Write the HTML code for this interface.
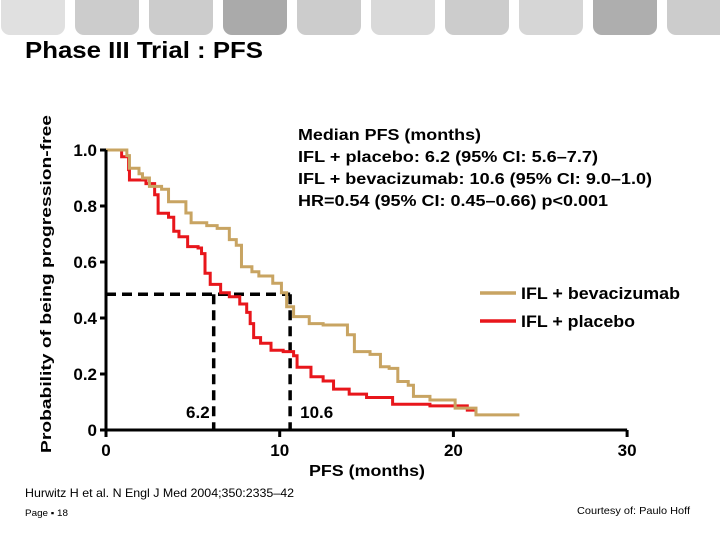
<!DOCTYPE html>
<html><head><meta charset="utf-8"><style>
body{margin:0;width:720px;height:540px;background:#fff;position:relative;overflow:hidden;font-family:"Liberation Sans",Arial,sans-serif}
.tab{position:absolute;top:-8px;width:64px;height:43px;border-radius:0 0 9px 9px}
.t{position:absolute;font-weight:bold;color:#000;white-space:nowrap}
</style></head><body>
<div id="tabs"></div>
<svg width="720" height="540" style="position:absolute;left:0;top:0" id="chart"></svg>
<script>
const tabColors=['#e0e0e0','#cccccc','#cccccc','#aaaaaa','#cccccc','#d9d9d9','#cccccc','#d6d6d6','#aeaeae','#cccccc'];
const tabs=document.getElementById('tabs');
tabColors.forEach((c,i)=>{const d=document.createElement('div');d.className='tab';d.style.left=(1+i*74)+'px';d.style.background=c;


tabs.appendChild(d);});

const xTicks=[0,10,20,30];
const yTicks=[0,0.2,0.4,0.6,0.8,1.0];
const yTickLabels=['0','0.2','0.4','0.6','0.8','1.0'];
const bevaMonths=[0,1.2,1.35,1.9,2.1,2.5,3.2,3.6,4.6,4.9,5.8,6.4,7.1,7.5,7.8,8.4,8.8,9.6,10.1,10.4,10.8,11.7,12.5,13.9,14.3,15.2,15.8,16.3,16.8,17.4,17.7,18.65,20.1,21.3,23.8];
const bevaSurv=[1.0,0.98,0.935,0.915,0.9,0.87,0.86,0.815,0.775,0.74,0.73,0.72,0.68,0.66,0.583,0.565,0.55,0.524,0.49,0.44,0.405,0.38,0.375,0.34,0.28,0.27,0.226,0.22,0.173,0.16,0.12,0.107,0.078,0.054,0.054];
const placMonths=[0,0.9,1.3,1.35,2.3,2.8,3.0,3.6,3.9,4.2,4.7,5.3,5.5,5.7,6.0,6.6,7.1,7.7,8.1,8.3,8.5,8.9,9.5,10.2,10.8,11.0,11.8,12.5,13.1,14.0,15.0,16.5,18.65,20.8,21.3];
const placSurv=[1.0,0.976,0.93,0.893,0.88,0.84,0.774,0.76,0.71,0.69,0.655,0.65,0.63,0.56,0.52,0.49,0.476,0.45,0.42,0.38,0.33,0.31,0.285,0.28,0.265,0.224,0.19,0.175,0.146,0.128,0.116,0.092,0.086,0.071,0.054];
const medians=[6.2,10.6];
const medianLabels=['6.2','10.6'];
const medianLevel=0.485;

const X=m=>106+m*17.37, Y=s=>430-s*280;
const svg=document.getElementById('chart');const NS='http://www.w3.org/2000/svg';
function el(tag,attrs,parent){const e=document.createElementNS(NS,tag);for(const k in attrs)e.setAttribute(k,attrs[k]);(parent||svg).appendChild(e);return e;}
function txt(x,y,s,attrs){const t=el('text',Object.assign({x:x,y:y,'font-family':'Liberation Sans, Arial, sans-serif','font-weight':'bold','font-size':15,fill:'#000'},attrs));t.textContent=s;return t;}

// slide texts
let t0=txt(25,58,'Phase III Trial : PFS',{'font-size':23,textLength:238,lengthAdjust:'spacingAndGlyphs'});


t0=txt(25,497,'Hurwitz H et al. N Engl J Med 2004;350:2335–42',{'font-size':12,'font-weight':'normal',textLength:269,lengthAdjust:'spacingAndGlyphs'});


t0=txt(25,516,'Page ▪ 18',{'font-size':9,'font-weight':'normal',textLength:43,lengthAdjust:'spacingAndGlyphs'});


t0=txt(577,514,'Courtesy of: Paulo Hoff',{'font-size':10.5,'font-weight':'normal',textLength:113,lengthAdjust:'spacingAndGlyphs'});



// dashed medians
const h=el('line',{x1:X(0),y1:Y(medianLevel),x2:X(medians[1]),y2:Y(medianLevel),stroke:'#000','stroke-width':3.5,'stroke-dasharray':'10,6'});


medians.forEach((m,i)=>{const v=el('line',{x1:X(m),y1:Y(medianLevel),x2:X(m),y2:Y(0),stroke:'#000','stroke-width':3.5,'stroke-dasharray':'10,6'});


const t=txt(i==0?X(m)-4:X(m)+10,Y(0)-12,medianLabels[i],{'text-anchor':i==0?'end':'start','font-size':17});

});

function step(ms,ss){let d='M'+X(ms[0])+','+Y(ss[0]);for(let i=1;i<ms.length;i++){d+='H'+X(ms[i])+'V'+Y(ss[i]);}return d;}
const pr=el('path',{d:step(placMonths,placSurv),fill:'none',stroke:'#e8161b','stroke-width':3});


const bv=el('path',{d:step(bevaMonths,bevaSurv),fill:'none',stroke:'#c8a462','stroke-width':3});



// axes
const ya=el('line',{x1:X(0),y1:Y(1.0),x2:X(0),y2:Y(0)+1.5,stroke:'#000','stroke-width':3});


const xa=el('line',{x1:X(0)-1.5,y1:Y(0),x2:X(30),y2:Y(0),stroke:'#000','stroke-width':3});


yTicks.forEach((v,i)=>{el('line',{x1:X(0)-6,y1:Y(v),x2:X(0),y2:Y(v),stroke:'#000','stroke-width':3});
const t=txt(X(0)-9,Y(v)+6,yTickLabels[i],{'text-anchor':'end','font-size':17});

});
xTicks.forEach(v=>{el('line',{x1:X(v),y1:Y(0),x2:X(v),y2:Y(0)+7,stroke:'#000','stroke-width':3});
const t=txt(X(v),Y(0)+26,String(v),{'text-anchor':'middle','font-size':17});

});
const xt=txt(367,476,'PFS (months)',{'text-anchor':'middle','font-size':16,textLength:116,lengthAdjust:'spacingAndGlyphs'});


const yt=txt(0,0,'Probability of being progression-free',{'text-anchor':'middle','font-size':15,textLength:338,lengthAdjust:'spacingAndGlyphs',transform:'translate(51,284) rotate(-90)'});



// legend
[['#c8a462','IFL + bevacizumab',293,159],['#e8161b','IFL + placebo',321,114]].forEach(l=>{
const g=el('g',{});


el('line',{x1:480,y1:l[2],x2:516,y2:l[2],stroke:l[0],'stroke-width':3.5},g);
const t=txt(521,l[2]+6,l[1],{'font-size':16.5,textLength:l[3],lengthAdjust:'spacingAndGlyphs'});g.appendChild(t);});

// annotation
const ann=['Median PFS (months)','IFL + placebo: 6.2 (95% CI: 5.6–7.7)','IFL + bevacizumab: 10.6 (95% CI: 9.0–1.0)','HR=0.54 (95% CI: 0.45–0.66) p<0.001'];
const annW=[183,300,354,310];
ann.forEach((s,i)=>{const t=txt(i==0?298:[298,298,298,298][i],140+i*22,s,{'font-size':16,textLength:annW[i],lengthAdjust:'spacingAndGlyphs'});

});
</script>
</body></html>
